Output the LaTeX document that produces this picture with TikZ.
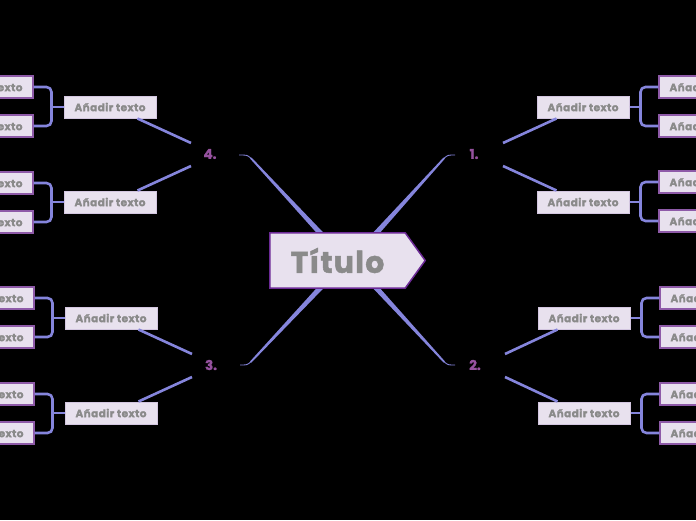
\documentclass[tikz,border=0pt]{standalone}
\usepackage{fontspec}
\setmainfont{Poppins}[BoldFeatures={FakeBold=1.6}]
\newfontfamily\boxfont{Poppins}[LetterSpace=4, BoldFeatures={FakeBold=1.6}]
\usetikzlibrary{calc,backgrounds}
\definecolor{boxfill}{HTML}{E8E1EE}
\definecolor{lvtwo}{HTML}{D3C6E0}
\definecolor{lvthree}{HTML}{8E5AA8}
\definecolor{conn}{HTML}{8585DC}
\definecolor{numc}{HTML}{95519E}
\definecolor{txtc}{HTML}{8A8A8A}
\definecolor{titb}{HTML}{6C2A96}
\tikzset{
  lvtwobox/.style={draw=lvtwo, line width=1pt, fill=boxfill, minimum width=92pt, minimum height=22pt, inner sep=0pt, font=\boxfont\bfseries\fontsize{10.5}{11}\selectfont, text=txtc},
  lvthreebox/.style={draw=lvthree, line width=1.2pt, fill=boxfill, minimum width=92pt, minimum height=22pt, inner sep=0pt, font=\boxfont\bfseries\fontsize{10.5}{11}\selectfont, text=txtc},
  numnode/.style={inner sep=0pt, font=\bfseries\fontsize{13.5}{13.5}\selectfont, text=numc},
  link/.style={draw=conn, line width=2.6pt},
  brack/.style={draw=conn, line width=2.6pt, rounded corners=5pt},
  thin/.style={draw=conn, line width=0.9pt}
}
\begin{document}
\begin{tikzpicture}[x=1pt,y=-1pt]
\useasboundingbox (0,0) rectangle (696,520);
\clip (0,0) rectangle (696,520);
% title text node
\node[minimum width=135pt, minimum height=55pt, inner sep=0pt, text=txtc, font=\boxfont\bfseries\fontsize{30}{30}\selectfont] (t) at (337.5,260.5) {Título};
% numbers
\node[numnode] (n1) at (474,154) {1.};
\node[numnode] (n2) at (475,365) {2.};
\node[numnode] (n3) at (211,365) {3.};
\node[numnode] (n4) at (210,154) {4.};
\begin{scope}[on background layer]
\fill[black] (0,0) rectangle (696,520);
% tapered connectors
\fill[conn] ($(t.north)+(-20.5,0.5)$) -- ($(t.north)+(-13.5,0.5)$) -- (251.5,157.5) -- (250,158.5) -- cycle;
\draw[thin] ($(n4)+(29,1)$) .. controls (247,155) .. (250.7,158);
\fill[conn] ($(t.north)+(35,0.5)$) -- ($(t.north)+(42,0.5)$) -- (445,158.5) -- (443.5,157.5) -- cycle;
\draw[thin] ($(n1)+(-19,1)$) .. controls (448,155) .. (444.3,158);
\fill[conn] ($(t.south)+(-20.5,-0.5)$) -- ($(t.south)+(-13.5,-0.5)$) -- (251.5,362.5) -- (250,361.5) -- cycle;
\draw[thin] ($(n3)+(29,0)$) .. controls (247,365) .. (250.7,362);
\fill[conn] ($(t.south)+(35,-0.5)$) -- ($(t.south)+(42,-0.5)$) -- (445,361.5) -- (443.5,362.5) -- cycle;
\draw[thin] ($(n2)+(-20,0)$) .. controls (448,365) .. (444.3,362);
% title shape
\draw[titb, line width=1.5pt, fill=boxfill] (t.north west) -- (t.north east) -- ($(t.east)+(20,0)$) -- (t.south east) -- (t.south west) -- cycle;
\end{scope}
% level 2
\node[lvtwobox] (a1) at (583,107) {Añadir texto};
\node[lvtwobox] (a2) at (583,202) {Añadir texto};
\node[lvtwobox] (a3) at (584,318) {Añadir texto};
\node[lvtwobox] (a4) at (584,413) {Añadir texto};
\node[lvtwobox] (a5) at (111,318) {Añadir texto};
\node[lvtwobox] (a6) at (111,413) {Añadir texto};
\node[lvtwobox] (a7) at (110,107) {Añadir texto};
\node[lvtwobox] (a8) at (110,202) {Añadir texto};
% level 3
\node[lvthreebox] (b1) at (705,87) {Añadir texto};
\node[lvthreebox] (b2) at (705,126) {Añadir texto};
\node[lvthreebox] (b3) at (705,182) {Añadir texto};
\node[lvthreebox] (b4) at (705,221) {Añadir texto};
\node[lvthreebox] (b5) at (706,298) {Añadir texto};
\node[lvthreebox] (b6) at (706,337) {Añadir texto};
\node[lvthreebox] (b7) at (706,394) {Añadir texto};
\node[lvthreebox] (b8) at (706,433) {Añadir texto};
\node[lvthreebox] (c1) at (-13,87) {Añadir texto};
\node[lvthreebox] (c2) at (-13,126) {Añadir texto};
\node[lvthreebox] (c3) at (-13,183) {Añadir texto};
\node[lvthreebox] (c4) at (-13,222) {Añadir texto};
\node[lvthreebox] (c5) at (-12,298) {Añadir texto};
\node[lvthreebox] (c6) at (-12,337) {Añadir texto};
\node[lvthreebox] (c7) at (-12,394) {Añadir texto};
\node[lvthreebox] (c8) at (-12,433) {Añadir texto};
% number to level 2
\draw[link] ($(n1)+(29,-11)$) -- ($(a1.south west)+(20,0)$);
\draw[link] ($(n1)+(29,12)$) -- ($(a2.north west)+(20,0)$);
\draw[link] ($(n2)+(30,-11)$) -- ($(a3.south west)+(20,0)$);
\draw[link] ($(n2)+(30,12)$) -- ($(a4.north west)+(20,0)$);
\draw[link] ($(n4)+(-19,-11)$) -- ($(a7.south east)+(-19,0)$);
\draw[link] ($(n4)+(-19,12)$) -- ($(a8.north east)+(-19,0)$);
\draw[link] ($(n3)+(-19,-11)$) -- ($(a5.south east)+(-19,0)$);
\draw[link] ($(n3)+(-19,12)$) -- ($(a6.north east)+(-19,0)$);
% brackets right
\draw[brack] (b1.west) -| ($(a1.east)+(11,0)$) |- (b2.west);
\draw[link] (a1.east) -- ++(11,0);
\draw[brack] (b3.west) -| ($(a2.east)+(11,0)$) |- (b4.west);
\draw[link] (a2.east) -- ++(11,0);
\draw[brack] (b5.west) -| ($(a3.east)+(11,0)$) |- (b6.west);
\draw[link] (a3.east) -- ++(11,0);
\draw[brack] (b7.west) -| ($(a4.east)+(11,0)$) |- (b8.west);
\draw[link] (a4.east) -- ++(11,0);
% brackets left
\draw[brack] (c1.east) -| ($(a7.west)+(-12,0)$) |- (c2.east);
\draw[link] (a7.west) -- ++(-12,0);
\draw[brack] (c3.east) -| ($(a8.west)+(-12,0)$) |- (c4.east);
\draw[link] (a8.west) -- ++(-12,0);
\draw[brack] (c5.east) -| ($(a5.west)+(-12,0)$) |- (c6.east);
\draw[link] (a5.west) -- ++(-12,0);
\draw[brack] (c7.east) -| ($(a6.west)+(-12,0)$) |- (c8.east);
\draw[link] (a6.west) -- ++(-12,0);
\end{tikzpicture}
\end{document}
